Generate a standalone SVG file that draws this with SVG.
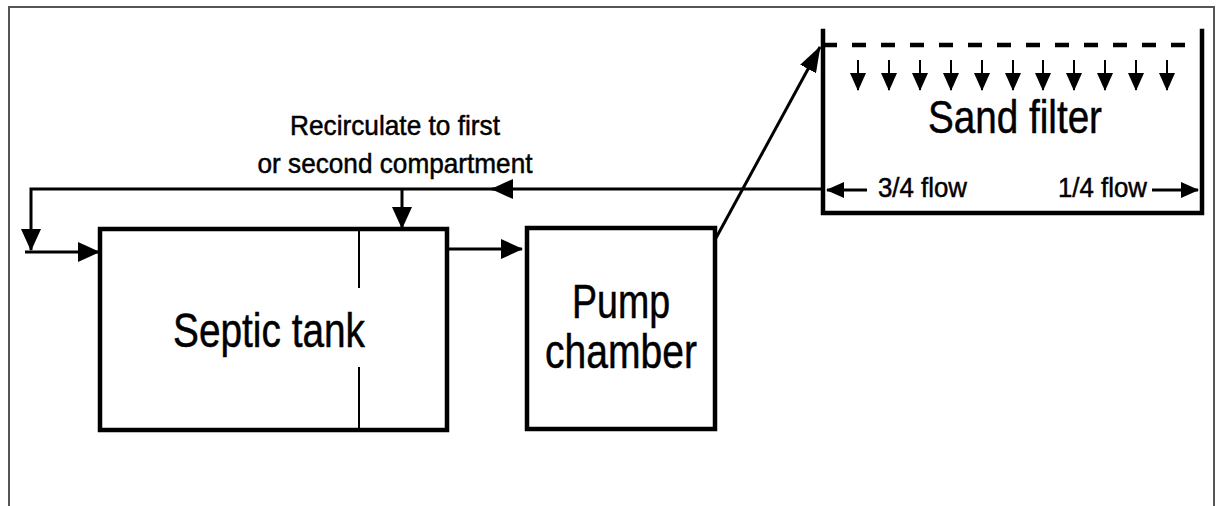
<svg xmlns="http://www.w3.org/2000/svg" width="1217" height="506" viewBox="0 0 1217 506">
  <style>
    .box { fill: none; stroke: #000; stroke-width: 4.5; }
    .wall { fill: none; stroke: #000; stroke-width: 4.5; stroke-linecap: square; }
    .conn { fill: none; stroke: #000; stroke-width: 3; }
    .thin { fill: none; stroke: #000; stroke-width: 2; }
    .lbl { font-family: "Liberation Sans", Arial, sans-serif; fill: #000; stroke: #000; stroke-width: 0.5; }
  </style>
  <defs>
    <marker id="ah" viewBox="0 0 22 20" refX="21" refY="10" markerWidth="22" markerHeight="20" markerUnits="userSpaceOnUse" orient="auto">
      <path d="M0,0 L22,10 L0,20 z" fill="#000"/>
    </marker>
    <marker id="ahs" viewBox="0 0 18 16" refX="17" refY="8" markerWidth="18" markerHeight="16" markerUnits="userSpaceOnUse" orient="auto">
      <path d="M0,0 L18,8 L0,16 z" fill="#000"/>
    </marker>
    <marker id="ahd" viewBox="0 0 26 18" refX="25" refY="9" markerWidth="26" markerHeight="18" markerUnits="userSpaceOnUse" orient="auto">
      <path d="M0,0 L26,9 L0,18 z" fill="#000"/>
    </marker>
  </defs>

  <rect width="1217" height="506" fill="#fff"/>
  <path d="M9,506 L9,7 L1214,7 L1214,506" fill="none" stroke="#555" stroke-width="2"/>

  <g id="septic-tank">
    <rect class="box" x="100" y="229" width="347" height="201"/>
    <line class="thin" x1="359" y1="229" x2="359" y2="288"/>
    <line class="thin" x1="359" y1="367" x2="359" y2="430"/>
    <text class="lbl" x="269" y="347" font-size="49" text-anchor="middle" textLength="192" lengthAdjust="spacingAndGlyphs">Septic tank</text>
  </g>

  <g id="pump-chamber">
    <rect class="box" x="527" y="228" width="188" height="201"/>
    <text class="lbl" x="621" y="318" font-size="49" text-anchor="middle" textLength="98" lengthAdjust="spacingAndGlyphs">Pump</text>
    <text class="lbl" x="621" y="368" font-size="49" text-anchor="middle" textLength="152" lengthAdjust="spacingAndGlyphs">chamber</text>
  </g>

  <g id="sand-filter">
    <path class="wall" d="M823,31 L823,213 L1202,213 L1202,31"/>
    <line x1="823" y1="45" x2="1202" y2="45" stroke="#000" stroke-width="4.5" stroke-dasharray="14 15"/>
    <g class="small-arrows">
      <line class="thin" x1="858" y1="60" x2="858" y2="90" marker-end="url(#ahs)"/>
      <line class="thin" x1="889" y1="60" x2="889" y2="90" marker-end="url(#ahs)"/>
      <line class="thin" x1="920" y1="60" x2="920" y2="90" marker-end="url(#ahs)"/>
      <line class="thin" x1="951" y1="60" x2="951" y2="90" marker-end="url(#ahs)"/>
      <line class="thin" x1="982" y1="60" x2="982" y2="90" marker-end="url(#ahs)"/>
      <line class="thin" x1="1013" y1="60" x2="1013" y2="90" marker-end="url(#ahs)"/>
      <line class="thin" x1="1043" y1="60" x2="1043" y2="90" marker-end="url(#ahs)"/>
      <line class="thin" x1="1074" y1="60" x2="1074" y2="90" marker-end="url(#ahs)"/>
      <line class="thin" x1="1105" y1="60" x2="1105" y2="90" marker-end="url(#ahs)"/>
      <line class="thin" x1="1136" y1="60" x2="1136" y2="90" marker-end="url(#ahs)"/>
      <line class="thin" x1="1167" y1="60" x2="1167" y2="90" marker-end="url(#ahs)"/>
    </g>
    <text class="lbl" x="1015" y="133" font-size="47" text-anchor="middle" textLength="174" lengthAdjust="spacingAndGlyphs">Sand filter</text>
    <line class="conn" x1="867" y1="190" x2="827" y2="190" marker-end="url(#ahs)"/>
    <text class="lbl" x="878" y="197" font-size="28" textLength="89" lengthAdjust="spacingAndGlyphs">3/4 flow</text>
    <text class="lbl" x="1058" y="197" font-size="28" textLength="89" lengthAdjust="spacingAndGlyphs">1/4 flow</text>
    <line class="conn" x1="1152" y1="190" x2="1198" y2="190" marker-end="url(#ahs)"/>
  </g>

  <g id="recirculate-label">
    <text class="lbl" x="395" y="135" font-size="28" text-anchor="middle" textLength="210" lengthAdjust="spacingAndGlyphs">Recirculate to first</text>
    <text class="lbl" x="395" y="173" font-size="28" text-anchor="middle" textLength="275" lengthAdjust="spacingAndGlyphs">or second compartment</text>
  </g>

  <g id="connectors">
    <line class="conn" x1="821" y1="189" x2="492" y2="189" marker-end="url(#ah)"/>
    <path class="conn" d="M505,189 L31,189 L31,250" marker-end="url(#ah)"/>
    <line class="conn" x1="402" y1="189" x2="402" y2="228" marker-end="url(#ah)"/>
    <line class="conn" x1="25" y1="252" x2="99" y2="252" marker-end="url(#ah)"/>
    <line class="conn" x1="447" y1="249" x2="522" y2="249" marker-end="url(#ah)"/>
    <line class="conn" x1="716" y1="238" x2="820" y2="47" marker-end="url(#ahd)"/>
  </g>
</svg>
